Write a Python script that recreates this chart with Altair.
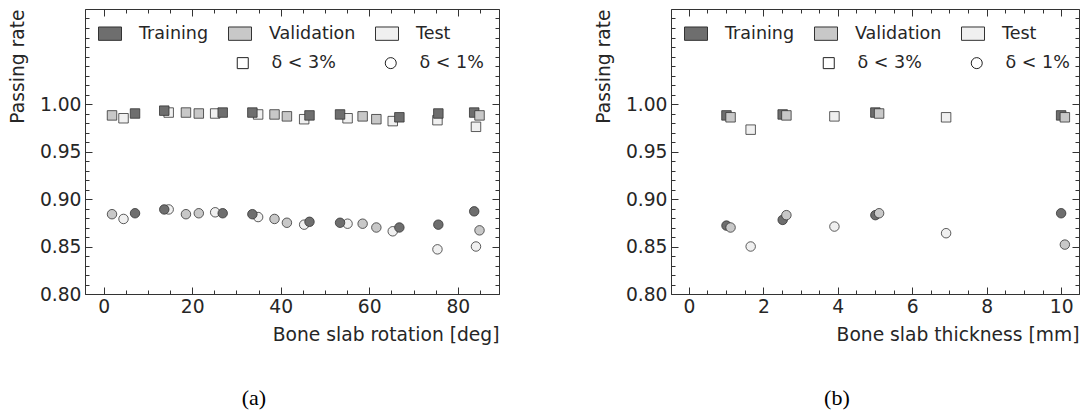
import altair as alt
import numpy as np
import pandas as pd

# ---------------- data ----------------
DATASETS = ["Training", "Validation", "Test"]
FILLS = ["#6e6e6e", "#c8c8c8", "#f0f0f0"]
CRITS = ["δ < 3%", "δ < 1%"]

# (a) bone slab rotation [deg]
rot_train_x = [7.1, 13.7, 26.9, 33.6, 46.5, 53.4, 66.8, 75.6, 83.7]
rot_train_3 = [0.990, 0.993, 0.991, 0.991, 0.988, 0.989, 0.986, 0.990, 0.991]
rot_train_1 = [0.885, 0.889, 0.885, 0.884, 0.876, 0.875, 0.870, 0.873, 0.887]

rot_val_x = [1.9, 18.6, 21.5, 38.6, 41.4, 58.5, 61.6, 84.9]
rot_val_3 = [0.988, 0.991, 0.990, 0.989, 0.987, 0.987, 0.984, 0.988]
rot_val_1 = [0.884, 0.884, 0.885, 0.879, 0.875, 0.874, 0.870, 0.867]

rot_test_x = [4.5, 14.7, 25.2, 34.9, 45.3, 55.1, 65.3, 75.4, 84.1]
rot_test_3 = [0.985, 0.991, 0.990, 0.989, 0.984, 0.985, 0.982, 0.983, 0.976]
rot_test_1 = [0.879, 0.889, 0.886, 0.881, 0.873, 0.874, 0.866, 0.847, 0.850]

# (b) bone slab thickness [mm]
thk_train_x = [1.01, 2.52, 5.01, 10.0]
thk_train_3 = [0.988, 0.989, 0.991, 0.988]
thk_train_1 = [0.872, 0.878, 0.883, 0.885]

thk_val_x = [1.12, 2.62, 5.11, 10.1]
thk_val_3 = [0.986, 0.988, 0.990, 0.986]
thk_val_1 = [0.870, 0.883, 0.885, 0.852]

thk_test_x = [1.66, 3.91, 6.91]
thk_test_3 = [0.973, 0.987, 0.986]
thk_test_1 = [0.850, 0.871, 0.864]

Y_MAJOR = [0.80, 0.85, 0.90, 0.95, 1.00]
Y_MINOR = [round(v, 2) for v in np.arange(0.80, 1.105, 0.01)]


def make_df(groups):
    rows = []
    for name, xs, y3, y1 in groups:
        for x, a, b in zip(xs, y3, y1):
            rows.append({"x": x, "y": a, "dataset": name, "crit": CRITS[0]})
            rows.append({"x": x, "y": b, "dataset": name, "crit": CRITS[1]})
    return pd.DataFrame(rows)


# drawing order: Test, Training, Validation
df_rot = make_df([
    ("Test", rot_test_x, rot_test_3, rot_test_1),
    ("Training", rot_train_x, rot_train_3, rot_train_1),
    ("Validation", rot_val_x, rot_val_3, rot_val_1),
])
df_thk = make_df([
    ("Test", thk_test_x, thk_test_3, thk_test_1),
    ("Training", thk_train_x, thk_train_3, thk_train_1),
    ("Validation", thk_val_x, thk_val_3, thk_val_1),
])

TXT = "#262626"
EDGE = "#333333"
FONT = "DejaVu Sans"
FS = 18.7
LFS = 17.5
MAJ = 7
MIN = 4


def panel(df, xdom, xmaj, xmin, xtitle, caption, width):
    xs = alt.Scale(domain=xdom, nice=False, zero=False)
    ys = alt.Scale(domain=[0.80, 1.10], nice=False, zero=False)
    base = alt.Chart(df)

    points = base.mark_point(
        filled=True, size=90, stroke=EDGE, strokeWidth=0.8, opacity=1
    ).encode(
        x=alt.X("x:Q", scale=xs, axis=alt.Axis(
            orient="bottom", values=xmaj, format="d", ticks=False, domain=False,
            grid=False, labelPadding=3, title=xtitle, titleAnchor="end",
            titlePadding=10)),
        y=alt.Y("y:Q", scale=ys, axis=alt.Axis(
            orient="left", values=Y_MAJOR, format=".2f", ticks=False,
            domain=False, grid=False, labelPadding=4, title="Passing rate",
            titleAnchor="end", titlePadding=12)),
        fill=alt.Fill("dataset:N", scale=alt.Scale(domain=DATASETS, range=FILLS),
                      legend=alt.Legend(
                          orient="none", legendX=13, legendY=12.5,
                          direction="horizontal", title=None,
                          symbolType="M-1,-0.58L1,-0.58L1,0.58L-1,0.58Z",
                          symbolSize=529, symbolStrokeColor=EDGE,
                          symbolStrokeWidth=1, symbolOpacity=1,
                          labelOffset=17, columnPadding=17, padding=0)),
        shape=alt.Shape("crit:N", scale=alt.Scale(domain=CRITS, range=["square", "circle"]),
                        legend=alt.Legend(
                            orient="none", legendX=149, legendY=45,
                            direction="horizontal", title=None,
                            symbolSize=121, symbolFillColor="white",
                            symbolStrokeColor="#222222", symbolStrokeWidth=1,
                            symbolOpacity=1,
                            labelOffset=20, columnPadding=46, padding=0)),
    )

    def tick_layer(xo, yo, xv, yv, size):
        return base.mark_point(opacity=0).encode(
            x=alt.X("x:Q", scale=xs, axis=alt.Axis(
                orient=xo, values=xv, labels=False, domain=False, grid=False,
                ticks=True, tickSize=size, offset=-size, tickColor=EDGE,
                tickWidth=1, title=None)),
            y=alt.Y("y:Q", scale=ys, axis=alt.Axis(
                orient=yo, values=yv, labels=False, domain=False, grid=False,
                ticks=True, tickSize=size, offset=-size, tickColor=EDGE,
                tickWidth=1, title=None)),
        )

    layers = [
        points,
        tick_layer("bottom", "left", xmaj, Y_MAJOR, MAJ),
        tick_layer("bottom", "left", xmin, Y_MINOR, MIN),
        tick_layer("top", "right", xmaj, Y_MAJOR, MAJ),
        tick_layer("top", "right", xmin, Y_MINOR, MIN),
    ]
    return alt.layer(*layers).resolve_axis(x="independent", y="independent").properties(
        width=width, height=285,
        title=alt.TitleParams(caption, orient="bottom", anchor="middle", frame="bounds",
                              font="Liberation Serif", fontSize=22, fontWeight="normal",
                              color="black", offset=44),
    )


left = panel(df_rot, [-4.2, 89.3], [0, 20, 40, 60, 80], list(range(0, 90, 5)),
             "Bone slab rotation [deg]", "(a)", 414)
right = panel(df_thk, [-0.48, 10.48], [0, 2, 4, 6, 8, 10],
              [v / 2 for v in range(0, 21)], "Bone slab thickness [mm]", "(b)", 408)

chart = alt.hconcat(left, right, spacing=93).resolve_scale(
    fill="independent", shape="independent"
).properties(
    padding={"left": 7, "top": 8, "right": 5, "bottom": 0},
    background="white",
).configure_view(
    stroke=EDGE, strokeWidth=1
).configure_axis(
    labelFont=FONT, labelFontSize=FS, labelColor=TXT,
    titleFont=FONT, titleFontSize=FS, titleFontWeight="normal", titleColor=TXT,
).configure_legend(
    labelFont=FONT, labelFontSize=LFS, labelColor=TXT,
)

chart.save("out.html", embed_options={"renderer": "svg", "actions": False})
